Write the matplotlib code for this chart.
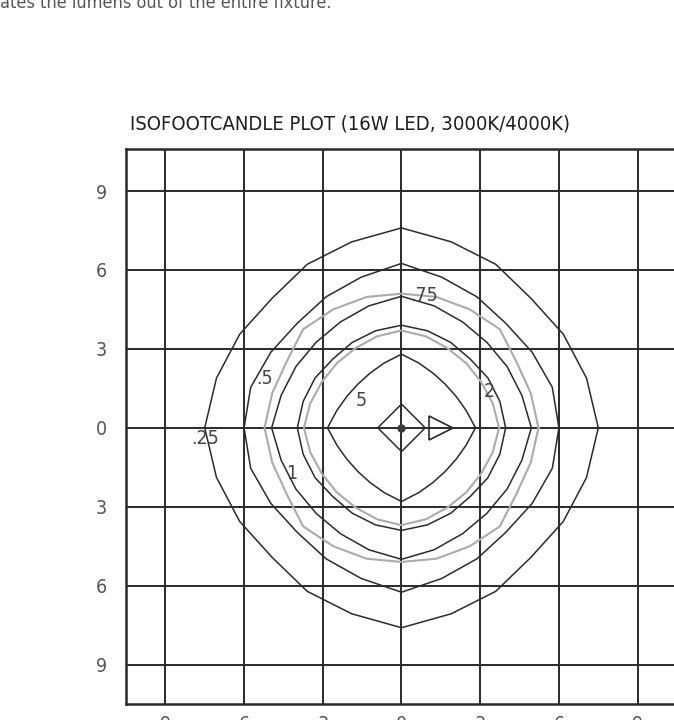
import numpy as np
import matplotlib
matplotlib.use("Agg")
import matplotlib.pyplot as plt
from matplotlib import font_manager

# Isofootcandle contours: radius (ft) sampled every 15 degrees over one quadrant,
# 0 deg = pointing right, 90 deg = pointing up
quad_angles = [0, 15, 30, 45, 60, 75, 90]
fc_025 = [7.50, 7.30, 7.12, 6.97, 7.18, 7.32, 7.60]
fc_050 = [6.00, 5.95, 5.75, 5.62, 5.75, 5.93, 6.25]
fc_075 = [5.22, 5.10, 5.05, 5.30, 5.20, 5.15, 5.10]
fc_100 = [4.95, 4.75, 4.65, 4.60, 4.65, 4.80, 5.00]
fc_150 = [3.72, 3.60, 3.50, 3.48, 3.50, 3.60, 3.70]
fc_200 = [3.97, 3.88, 3.80, 3.70, 3.75, 3.82, 3.90]
fc_500 = [2.82, 2.55, 2.40, 2.35, 2.40, 2.55, 2.80]
fc_1000 = [0.90, 0.74, 0.66, 0.64, 0.66, 0.74, 0.90]

DARK = "#2b2b2b"
GREY = "#ababab"
contours = [
    (fc_025, DARK),
    (fc_050, DARK),
    (fc_075, GREY),
    (fc_100, DARK),
    (fc_150, GREY),
    (fc_200, DARK),
    (fc_500, DARK),
    (fc_1000, DARK),
]

level_labels = [".25", ".5", "1", ".75", "2", "5"]
grid_ticks = [-9, -6, -3, 0, 3, 6, 9]
tick_text = [str(abs(t)) for t in grid_ticks]


def pick_narrow_font():
    # prefer a narrow / condensed sans face, otherwise Roboto
    regular = [f for f in font_manager.fontManager.ttflist
               if f.style == "normal" and f.weight in (400, "normal", "regular", "book")]
    for f in regular:
        if f.name == "Liberation Sans Narrow":
            return font_manager.FontProperties(fname=f.fname)
    for f in regular:
        if "Condensed" in f.name or "Narrow" in f.name or f.stretch in ("condensed", "semi-condensed"):
            if "Mono" not in f.name and "Serif" not in f.name:
                return font_manager.FontProperties(fname=f.fname)
    return font_manager.FontProperties(family="Roboto")


def full_ring(profile):
    # mirror the quadrant profile into the other three quadrants
    q = list(profile)
    r = np.array(q + q[-2::-1] + q[1:] + q[-2:0:-1])
    theta = np.radians(np.arange(len(r)) * (quad_angles[1] - quad_angles[0]))
    x = r * np.cos(theta)
    y = r * np.sin(theta)
    return np.append(x, x[0]), np.append(y, y[0])


def fit_width(txt, target_px):
    renderer = fig.canvas.get_renderer()
    w = txt.get_window_extent(renderer).width
    txt.set_fontsize(txt.get_fontsize() * target_px / w)


narrow = pick_narrow_font()

fig = plt.figure(figsize=(6.74, 7.2), dpi=100)
ax = fig.add_axes([126 / 674, 16 / 720, 551 / 674, 555 / 720])
ax.set_xlim(-10.5, 10.5)
ax.set_ylim(-10.5, 10.6)

# grid every 3 ft
for t in grid_ticks:
    ax.axvline(t, color="#2a2a2a", lw=1.4, zorder=1)
    ax.axhline(t, color="#2a2a2a", lw=1.4, zorder=1)

for prof, col in contours:
    x, y = full_ring(prof)
    lw = 1.5 if col == GREY else 1.1
    ax.plot(x, y, color=col, lw=lw, zorder=2)

# fixture location and aiming direction
ax.plot(0, 0, marker="o", ms=5, color="#3a3a3a", zorder=3)
ax.plot(1.5, 0, marker=">", ms=17, fillstyle="none", mec=DARK, mew=1.2, zorder=3)

label_pos = [(-7.49, -0.42), (-5.21, 1.86), (-4.18, -1.75), (0.87, 5.02), (3.35, 1.37), (-1.52, 1.03)]
for txt, (lx, ly) in zip(level_labels, label_pos):
    t = ax.text(lx, ly, txt, color="#444444", ha="center", va="center", zorder=4,
                fontproperties=narrow)
    t.set_fontsize(14)

ax.set_xticks(grid_ticks)
ax.set_xticklabels(tick_text)
ax.set_yticks(grid_ticks)
ax.set_yticklabels(tick_text)
ax.tick_params(length=0, labelcolor="#555555")
ax.tick_params(axis="y", pad=14)
ax.tick_params(axis="x", pad=8)
for lab in ax.get_xticklabels() + ax.get_yticklabels():
    lab.set_fontproperties(narrow)
    lab.set_fontsize(14)
for s in ax.spines.values():
    s.set_linewidth(1.8)
    s.set_color("#2a2a2a")

title = fig.text(130 / 674, 1 - 130 / 720, "ISOFOOTCANDLE PLOT (16W LED, 3000K/4000K)",
                 color="#1e1e1e", va="baseline", ha="left", fontproperties=narrow)
title.set_fontsize(16)
note = fig.text(0, 1 - 8 / 720, "ates the lumens out of the entire fixture.",
                color="#555555", va="baseline", ha="left", fontproperties=narrow)
note.set_fontsize(13)
fit_width(title, 442)
fit_width(note, 330)

fig.savefig("out.png", dpi=100, facecolor="white")
